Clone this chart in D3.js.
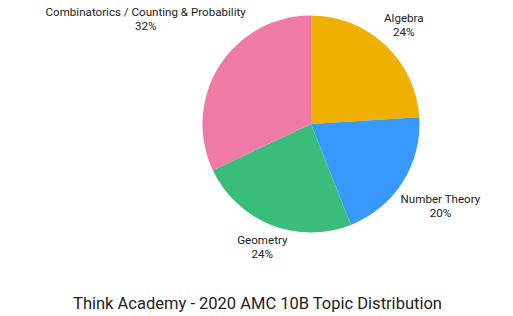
<!DOCTYPE html>
<html><head><meta charset="utf-8">
<script src="https://cdn.jsdelivr.net/npm/d3@7"></script>
<style>body{margin:0;background:#fff}svg{display:block}</style>
</head><body>
<svg id="c" width="513" height="316"></svg>
<script>
const categories = ["Algebra", "Number Theory", "Geometry", "Combinatorics / Counting & Probability"];
const values = [24, 20, 24, 32];
const colors = ["#f0b000", "#3899fc", "#3abd7b", "#ef7aa7"];
const title = "Think Academy - 2020 AMC 10B Topic Distribution";

const svg = d3.select("#c");
const cx = 311, cy = 124, R = 108.5;
const font = "Roboto, 'Noto Sans', sans-serif";
const data = categories.map((c, i) => ({cat: c, val: values[i], color: colors[i]}));
const pie = d3.pie().value(d => d.val).sort(null);
const arcs = pie(data);
const arc = d3.arc().innerRadius(0).outerRadius(R);
const g = svg.append("g").attr("transform", `translate(${cx},${cy})`);
g.selectAll("path").data(arcs).join("path")
  .attr("d", arc).attr("fill", d => d.data.color);

const total = d3.sum(values);
const fs = 11.6, lh = 14.3, gap = 114;
const lab = svg.append("g").attr("font-family", font).attr("font-size", fs).attr("fill", "#222");
function boxDist(x, y, w, h) {
  const dx = Math.max(Math.abs(x) - w / 2, 0), dy = Math.max(Math.abs(y) - h / 2, 0);
  return Math.hypot(dx, dy);
}
arcs.forEach(a => {
  const m = (a.startAngle + a.endAngle) / 2;
  const s = Math.sin(m), c = -Math.cos(m);
  const t = lab.append("text").attr("text-anchor", "middle");
  t.append("tspan").attr("x", 0).attr("y", 0).text(a.data.cat);
  t.append("tspan").attr("x", 0).attr("y", lh).text(Math.round(a.data.val / total * 100) + "%");
  const w = t.node().getBBox().width;
  const h = lh + 0.71 * fs;
  let lo = 0, hi = 400;
  for (let k = 0; k < 60; k++) {
    const mid = (lo + hi) / 2;
    if (boxDist(s * mid, c * mid, w, h) < gap) lo = mid; else hi = mid;
  }
  const lx = cx + s * hi, ly = cy + c * hi;
  // box top = first baseline - 0.71*fs
  const baseY = ly - h / 2 + 0.71 * fs;
  t.attr("transform", `translate(${lx},${baseY})`);
});

svg.append("text").attr("x", 257.5).attr("y", 309).attr("text-anchor", "middle")
  .attr("font-family", font).attr("font-size", 16.5).attr("fill", "#222").text(title);
</script>
</body></html>
